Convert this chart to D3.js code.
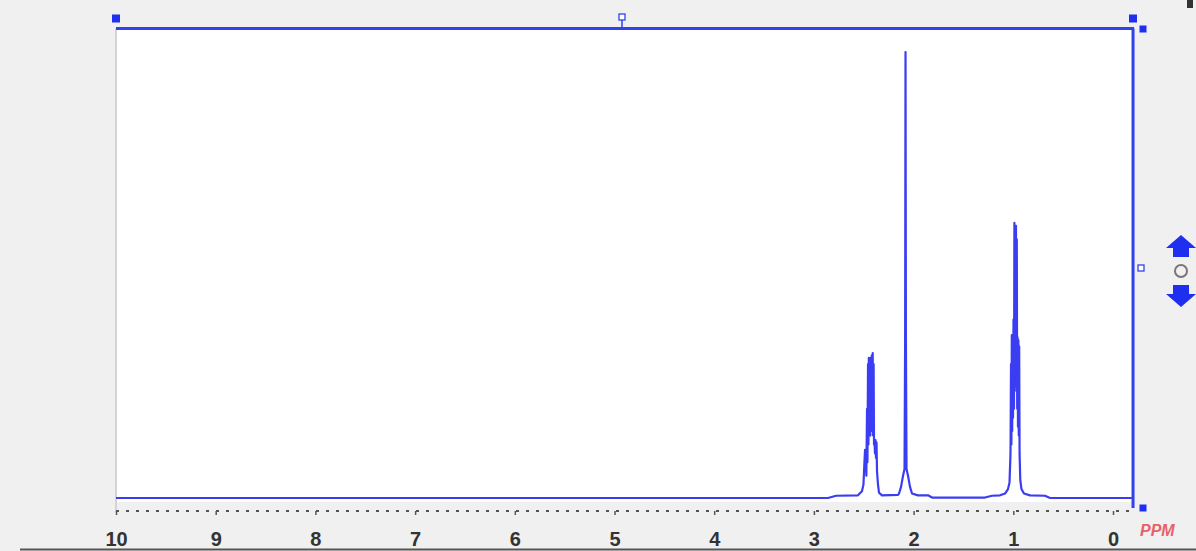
<!DOCTYPE html>
<html><head><meta charset="utf-8">
<script src="https://cdn.jsdelivr.net/npm/d3@7/dist/d3.min.js"></script>
<style>html,body{margin:0;padding:0;background:#f0f0f0;}svg{display:block;}</style>
</head><body>
<svg id="c" width="1196" height="551"></svg>
<script>
// Spectrum points (chemical shift in ppm, relative intensity)
const ppm = [
  10.000, 3.641, 2.859, 2.778, 2.558,
  2.518, 2.503, 2.493, 2.487, 2.482, 2.477, 2.474, 2.467, 2.463, 2.457, 2.453, 2.449, 2.445, 2.439, 2.434,
  2.429, 2.424, 2.419, 2.415, 2.410, 2.406, 2.401, 2.397, 2.393, 2.387, 2.382, 2.377, 2.372, 2.367, 2.357, 2.347,
  2.317, 2.156,
  2.146, 2.126, 2.106, 2.091, 2.085, 2.081, 2.077, 2.071, 2.056, 2.036, 2.016,
  1.956, 1.855, 1.815, 1.284, 1.214, 1.133,
  1.083, 1.053, 1.038, 1.028, 1.023, 1.019, 1.015, 1.011, 1.007, 1.003, 0.998, 0.993, 0.989, 0.985, 0.981,
  0.977, 0.973, 0.969, 0.965, 0.961, 0.957, 0.953, 0.949, 0.945, 0.941, 0.937, 0.930, 0.918, 0.893,
  0.832, 0.682, 0.632, -0.201
];
const intensity = [
  0, 0, 0, 0.5, 0.6,
  1.5, 3, 8, 10.8, 6, 10, 5, 20, 8, 30, 12, 31.4, 14, 31, 14,
  31.5, 16, 32, 15, 32.5, 14, 30, 12, 13, 10, 13, 9, 12.5, 6, 3, 1.2,
  0.6, 0.7,
  1, 2.5, 5, 6.5, 35, 100, 35, 6.5, 5, 2.5, 1,
  0.6, 0.6, 0.1, 0.1, 0.5, 0.6,
  1, 2, 3.5, 10, 30, 12, 36.5, 15, 36, 18, 40, 20, 61.7, 25, 61,
  25, 61, 24, 58, 20, 36, 16, 35.4, 14, 34, 10, 4, 2, 1,
  0.6, 0.5, 0, 0
];
const tickValues = [10, 9, 8, 7, 6, 5, 4, 3, 2, 1, 0];
const tickLabels = ["10", "9", "8", "7", "6", "5", "4", "3", "2", "1", "0"];
const unitLabel = "PPM";

const svg = d3.select("#c");
const x = d3.scaleLinear().domain([10, 0]).range([116, 1113]);
const y = d3.scaleLinear().domain([0, 100]).range([498, 52]);
const xLeft = x(10), xRight = x(-0.201), yTop = 28.5, yBot = 502;
const blue = "#3142e8";

// plot area
svg.append("rect").attr("x", xLeft).attr("y", yTop).attr("width", xRight - xLeft).attr("height", yBot - yTop).attr("fill", "#ffffff");
svg.append("line").attr("x1", xLeft).attr("x2", xLeft).attr("y1", yTop).attr("y2", 512).attr("stroke", "#d4d4d4").attr("stroke-width", 2);

// spectrum
const pts = ppm.map((p, i) => [p, intensity[i]]);
svg.append("path").datum(pts)
  .attr("d", d3.line().x(d => x(d[0])).y(d => y(d[1])))
  .attr("fill", "none").attr("stroke", "#3b3df2").attr("stroke-width", 2.2).attr("stroke-linejoin", "round");

// frame lines
svg.append("line").attr("x1", xLeft).attr("x2", xRight + 1).attr("y1", yTop).attr("y2", yTop).attr("stroke", blue).attr("stroke-width", 3);
svg.append("line").attr("x1", xRight).attr("x2", xRight).attr("y1", yTop).attr("y2", 508).attr("stroke", blue).attr("stroke-width", 3);

// handles
function sq(cx, cy, s, fill, stroke) {
  svg.append("rect").attr("x", cx - s / 2).attr("y", cy - s / 2).attr("width", s).attr("height", s)
    .attr("fill", fill).attr("stroke", stroke || "none").attr("stroke-width", 1.3);
}
sq(xLeft, 18.5, 8, "#1f2ff0");
svg.append("line").attr("x1", 622).attr("x2", 622).attr("y1", 20).attr("y2", yTop).attr("stroke", blue).attr("stroke-width", 1.5);
sq(622, 17, 6, "#ffffff", blue);
sq(1133, 18.5, 8, "#1f2ff0");
sq(1143, 29, 7, "#1f2ff0");
sq(1141, 268, 6, "#ffffff", blue);
sq(1143, 508, 7, "#1f2ff0");
svg.append("rect").attr("x", 1187).attr("y", 0).attr("width", 6).attr("height", 8).attr("fill", "#333");

// scroll arrows
svg.append("path").attr("d", "M1181,235 L1196,248 L1189,248 L1189,257 L1173,257 L1173,248 L1166,248 Z").attr("fill", "#1f2ff0");
svg.append("circle").attr("cx", 1181).attr("cy", 271).attr("r", 6).attr("fill", "none").attr("stroke", "#777").attr("stroke-width", 2);
svg.append("path").attr("d", "M1173,285 L1189,285 L1189,294 L1196,294 L1181,307 L1166,294 L1173,294 Z").attr("fill", "#1f2ff0");

// x axis
const axisY = 511;
svg.append("line").attr("x1", xLeft).attr("x2", xRight).attr("y1", axisY).attr("y2", axisY)
  .attr("stroke", "#555").attr("stroke-width", 2).attr("stroke-dasharray", "3,7");
const ax = svg.append("g").attr("transform", `translate(0,${axisY})`)
  .call(d3.axisBottom(x).tickValues(tickValues).tickSize(4).tickPadding(17)
    .tickFormat((d, i) => tickLabels[i]));
ax.select(".domain").remove();
ax.selectAll(".tick line").attr("stroke", "#555").attr("stroke-width", 1.5);
ax.selectAll(".tick text").attr("font-family", "Liberation Sans, Arial, sans-serif").attr("font-size", 20)
  .attr("fill", "#333").attr("font-weight", "bold");

svg.append("text").attr("x", 1140).attr("y", 536).text(unitLabel)
  .attr("font-family", "Liberation Sans, Arial, sans-serif").attr("font-size", 16).attr("font-style", "italic")
  .attr("font-weight", "bold").attr("fill", "#e8606a");

// bottom border
svg.append("line").attr("x1", 20).attr("x2", 1196).attr("y1", 549.5).attr("y2", 549.5).attr("stroke", "#555").attr("stroke-width", 2);
</script>
</body></html>
